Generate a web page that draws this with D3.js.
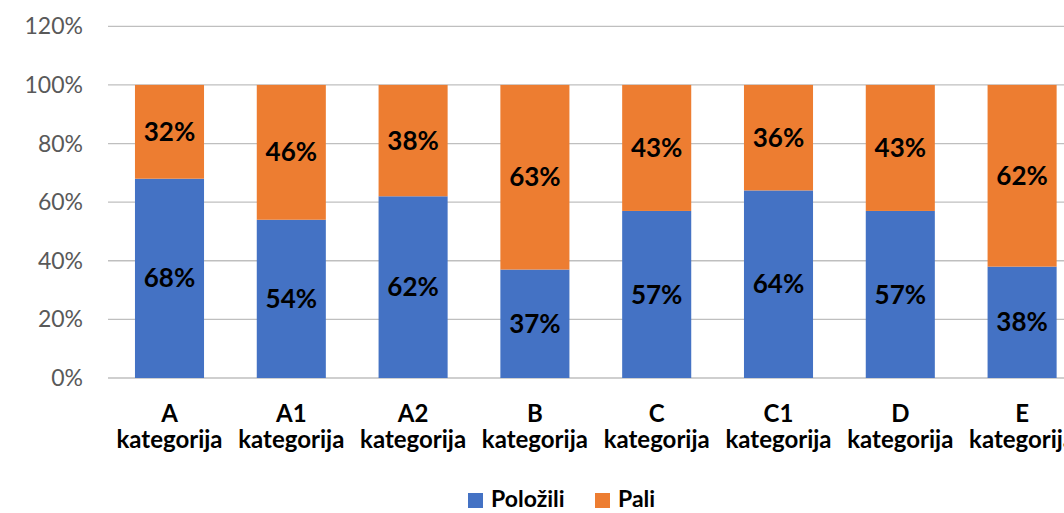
<!DOCTYPE html>
<html>
<head>
<meta charset="utf-8">
<script src="https://cdn.jsdelivr.net/npm/d3@7"></script>
<style>
  html, body { margin: 0; padding: 0; background: #fff; overflow: hidden; }
  svg { display: block; }
</style>
</head>
<body>
<svg id="chart"></svg>
<script>
// chart data
const categories = ['A', 'A1', 'A2', 'B', 'C', 'C1', 'D', 'E'];
const polozili = [68, 54, 62, 37, 57, 64, 57, 38];
const pali = [32, 46, 38, 63, 43, 36, 43, 62];
const yTicks = [0, 20, 40, 60, 80, 100, 120];
const seriesNames = ['Položili', 'Pali'];
const colors = ['#4472c4', '#ed7d31'];

const W = 1064, H = 513;
const FONT = 'Lato, "Noto Sans", sans-serif';

const svg = d3.select('#chart').attr('width', W).attr('height', H);

// plot area (the right part is cropped off in the original)
const x = d3.scaleBand().domain(categories).range([108.6, 1083]).paddingInner(0.433).paddingOuter(0.2165);
const y = d3.scaleLinear().domain([0, 120]).range([378, 26.3]);

// gridlines
svg.append('g').selectAll('line').data(yTicks).join('line')
  .attr('x1', 108).attr('x2', W)
  .attr('y1', d => y(d)).attr('y2', d => y(d))
  .attr('stroke', '#bfbfbf').attr('stroke-width', 1.3);

// y tick labels
svg.append('g').selectAll('text').data(yTicks).join('text')
  .attr('x', 83).attr('y', d => y(d)).attr('dy', '0.35em')
  .attr('text-anchor', 'end')
  .attr('fill', '#595959').attr('font-size', 23).attr('font-family', FONT)
  .text(d => d + '%');

// stacked data
const rows = categories.map((c, i) => ({ cat: c, s0: polozili[i], s1: pali[i] }));
const stacked = d3.stack().keys(['s0', 's1'])(rows);

const layer = svg.append('g').selectAll('g').data(stacked).join('g')
  .attr('fill', (d, i) => colors[i]);

layer.selectAll('rect').data(d => d).join('rect')
  .attr('x', d => x(d.data.cat))
  .attr('width', x.bandwidth())
  .attr('y', d => y(d[1]))
  .attr('height', d => y(d[0]) - y(d[1]));

// data labels (centered in segment)
layer.selectAll('text').data(d => d).join('text')
  .attr('x', d => x(d.data.cat) + x.bandwidth() / 2)
  .attr('y', d => (y(d[0]) + y(d[1])) / 2)
  .attr('dy', '0.35em')
  .attr('text-anchor', 'middle')
  .attr('fill', '#000').attr('font-size', 26).attr('font-weight', 700)
  .attr('font-family', FONT)
  .text(d => (d[1] - d[0]) + '%');

// category labels (two lines)
const catG = svg.append('g').selectAll('text').data(categories).join('text')
  .attr('text-anchor', 'middle')
  .attr('fill', '#000').attr('font-size', 24).attr('font-weight', 700)
  .attr('font-family', FONT);
catG.append('tspan')
  .attr('x', d => x(d) + x.bandwidth() / 2).attr('y', 421.5)
  .text(d => d);
catG.append('tspan')
  .attr('x', d => x(d) + x.bandwidth() / 2).attr('y', 448)
  .text('kategorija');

// legend
const legend = svg.append('g');
const legX = [468, 595];
seriesNames.forEach((name, i) => {
  legend.append('rect')
    .attr('x', legX[i]).attr('y', 493).attr('width', 15).attr('height', 15)
    .attr('fill', colors[i]);
  legend.append('text')
    .attr('x', legX[i] + 23).attr('y', 507)
    .attr('fill', '#000').attr('font-size', 23).attr('font-weight', 700)
    .attr('font-family', FONT)
    .text(name);
});
</script>
</body>
</html>
